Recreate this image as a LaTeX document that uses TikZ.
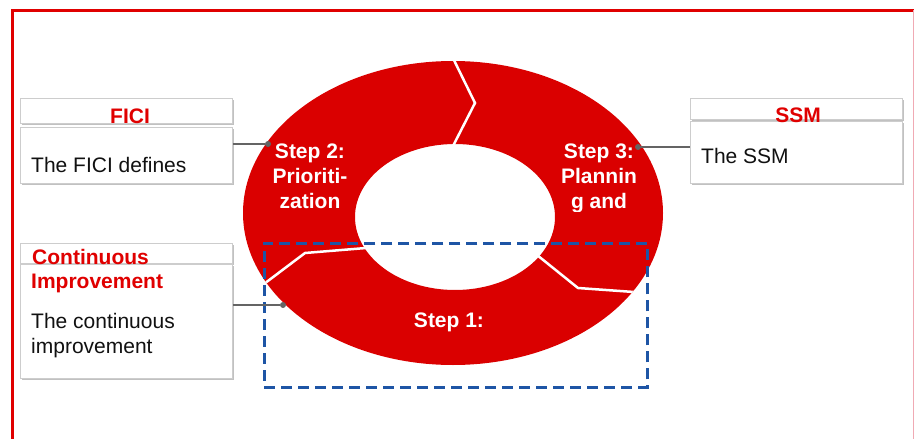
\documentclass[tikz,border=0pt]{standalone}
\usepackage{fontspec}
\setmainfont{Liberation Sans}
\usetikzlibrary{shadows}
\definecolor{ringred}{RGB}{218,0,0}
\definecolor{framered}{RGB}{224,0,0}
\definecolor{framepink}{RGB}{240,170,180}
\definecolor{dashblue}{RGB}{30,85,165}
\definecolor{boxline}{RGB}{205,205,205}
\definecolor{conngray}{RGB}{100,100,100}
\definecolor{bodyblack}{RGB}{17,17,17}
\tikzset{
  infobox/.style={draw=boxline, line width=0.8pt, fill=white, inner sep=0pt,
    anchor=north west,
    drop shadow={shadow xshift=1.8pt, shadow yshift=-1.8pt, opacity=0.35, fill=black!70}},
  titletext/.style={text=framered, font=\bfseries\fontsize{21}{24}\selectfont, inner sep=0pt, align=left},
  bodytext/.style={text=bodyblack, font=\fontsize{21}{25}\selectfont, inner sep=0pt, align=left},
  steptext/.style={text=white, font=\bfseries\fontsize{21}{25}\selectfont, inner sep=0pt, align=center},
  cdot/.style={circle, fill=conngray, inner sep=0pt, minimum size=6pt},
  connline/.style={draw=conngray, line width=1.3pt},
  divider/.style={draw=white, line width=2.5pt, line join=miter},
  dashbox/.style={draw=dashblue, line width=2.6pt, dash pattern=on 11pt off 6pt, inner sep=0pt, anchor=north west},
}
\begin{document}
\begin{tikzpicture}[x=1pt, y=-1pt]
\useasboundingbox (0,0) rectangle (914,439);
% frame
\draw[framered, line width=3pt] (12,439) -- (12,10) -- (914,10);
\draw[framepink, line width=1pt] (913,10) -- (913,439);
% ring
\fill[ringred, even odd rule] (453,213) ellipse [x radius=210pt, y radius=152pt]
  (455,217) ellipse [x radius=100pt, y radius=73pt];
\begin{scope}
  \clip (453,213) ellipse [x radius=210pt, y radius=152pt];
  \draw[divider] (450,52) -- (475,103) -- (453,146);
  \draw[divider] (252,293) -- (305,253) -- (366,248);
  \draw[divider] (537,255) -- (578,288) -- (662,294);
\end{scope}
% step labels
\begin{scope}
  \clip (240,60) rectangle (680,211);
  \node[steptext, anchor=base] (step2) at (310,208) {Step 2:\\Prioriti-\\zation};
  \node[steptext, anchor=base] (step3) at (599,208) {Step 3:\\Plannin\\g and};
\end{scope}
\node[steptext, anchor=base] (step1) at (449,327) {Step 1:};
% focus box
\node[dashbox, minimum width=383pt, minimum height=144pt] (focus) at (263,242) {};
% info boxes
\node[infobox, minimum width=212pt, minimum height=25pt] (ficiT) at (20,98) {};
\node[infobox, minimum width=212pt, minimum height=56pt] (ficiB) at (20,127) {};
\node[infobox, minimum width=212pt, minimum height=21pt] (ssmT) at (690,98) {};
\node[infobox, minimum width=212pt, minimum height=62pt] (ssmB) at (690,121) {};
\node[infobox, minimum width=212pt, minimum height=20pt] (ciT) at (20,243) {};
\node[infobox, minimum width=212pt, minimum height=114pt] (ciB) at (20,264) {};
% texts
\node[titletext, anchor=base] (ficiTitle) at (130,123) {FICI};
\node[bodytext, anchor=base west] (ficiText) at (31,172) {The FICI defines};
\node[titletext, anchor=base] (ssmTitle) at (798,122) {SSM};
\node[bodytext, anchor=base west] (ssmText) at (701,163) {The SSM};
\node[titletext, anchor=base west] (ciTitle1) at (32,264) {Continuous};
\node[titletext, anchor=base west] (ciTitle2) at (31,288) {Improvement};
\node[bodytext, anchor=base west] (ciText1) at (31,328) {The continuous};
\node[bodytext, anchor=base west] (ciText2) at (31,353) {improvement};
% connectors
\node[cdot] (d2) at (268,144) {};
\node[cdot] (d3) at (638,147) {};
\node[cdot] (d1) at (283,305) {};
\draw[connline] (ficiB.east |- d2) -- (d2);
\draw[connline] (d3) -- (ssmB.west |- d3);
\draw[connline] (ciB.east |- d1) -- (d1);
\end{tikzpicture}
\end{document}
